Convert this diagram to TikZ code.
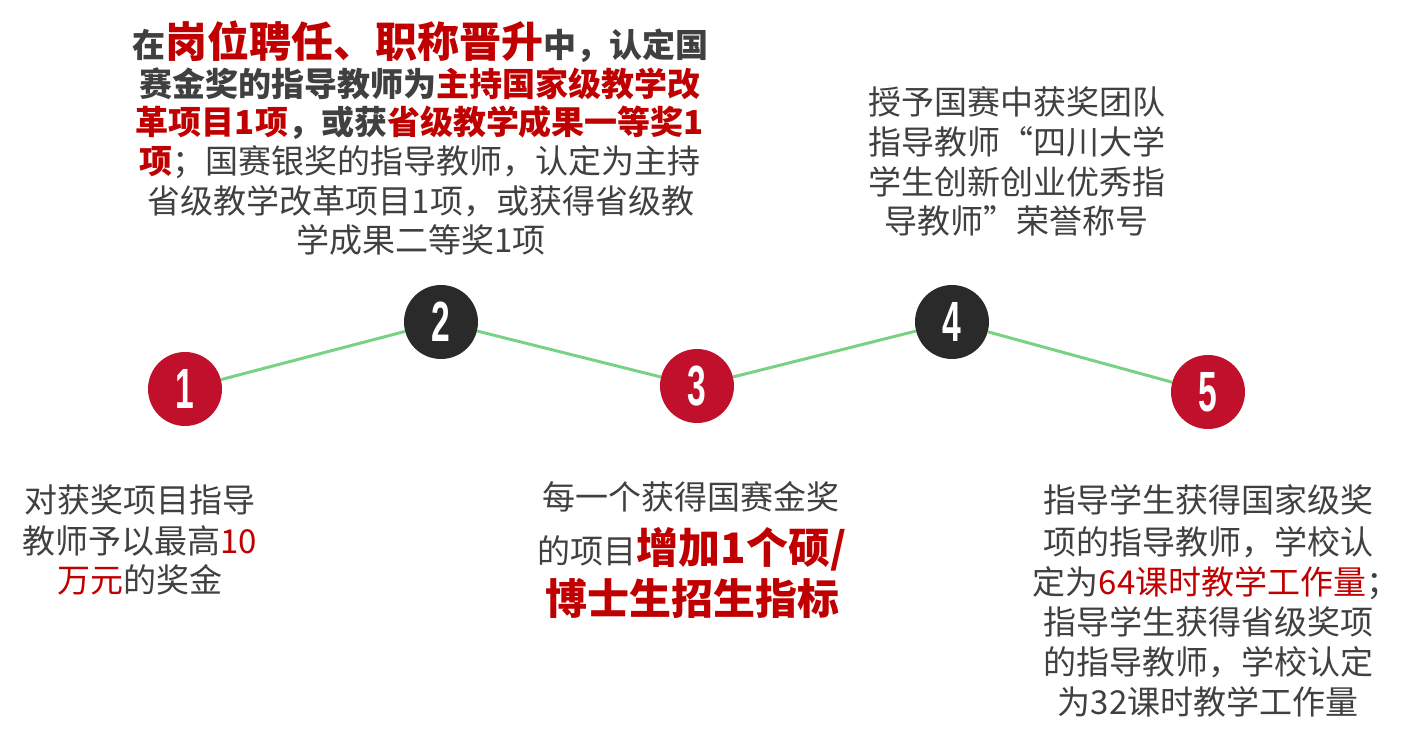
\documentclass[tikz,border=0pt]{standalone}
\usepackage{fontspec}
\usepackage{graphicx}
\newfontfamily\cjk{Noto Sans CJK SC}
\newfontfamily\numfont{Liberation Sans}
\definecolor{cred}{HTML}{C0102B}
\definecolor{cdark}{HTML}{2A2A2A}
\definecolor{cgreen}{HTML}{78D283}
\definecolor{tgray}{HTML}{404040}
\definecolor{tred}{HTML}{C00000}
\newcommand\bigred[1]{{\fontsize{42}{48}\selectfont\bfseries\color{tred}#1}}
\newcommand\boldred[1]{{\bfseries\color{tred}#1}}
\newcommand\plainred[1]{{\color{tred}#1}}
\newcommand\numtxt[1]{\scalebox{0.8}[1.35]{\numfont\bfseries\fontsize{42}{42}\selectfont #1}}
\tikzset{
  dot/.style={circle, minimum size=74pt, inner sep=0pt, text=white},
  reddot/.style={dot, fill=cred},
  darkdot/.style={dot, fill=cdark},
  link/.style={cgreen, line width=3pt},
  txt/.style={anchor=base, inner sep=0pt, text=tgray, font=\cjk\fontsize{33}{40}\selectfont},
}
\begin{document}
\begin{tikzpicture}[x=1pt,y=-1pt]
\useasboundingbox (0,0) rectangle (1428,732);
% circles
\node[reddot]  (c1) at (185,389) {\numtxt{1}};
\node[darkdot] (c2) at (441,322) {\numtxt{2}};
\node[reddot]  (c3) at (697,386) {\numtxt{3}};
\node[darkdot] (c4) at (952,322) {\numtxt{4}};
\node[reddot]  (c5) at (1208,392) {\numtxt{5}};
\draw[link] (c1) -- (c2);
\draw[link] (c2) -- (c3);
\draw[link] (c3) -- (c4);
\draw[link] (c4) -- (c5);
% block 2 (top left)
\node[txt] (b2a) at (420,57) {{\bfseries 在}\bigred{岗位聘任、职称晋升}{\bfseries 中，认定国}};
\node[txt] (b2b) at (420,96) {{\bfseries 赛金奖的指导教师为}\boldred{主持国家级教学改}};
\node[txt] (b2c) at (420,134) {\boldred{革项目1项}{\bfseries ，或获}\boldred{省级教学成果一等奖1}};
\node[txt] (b2d) at (420,173) {\boldred{项}；国赛银奖的指导教师，认定为主持};
\node[txt] (b2e) at (421,213) {省级教学改革项目1项，或获得省级教};
\node[txt] (b2f) at (421,252) {学成果二等奖1项};
% block 4 (top right)
\node[txt] (b4a) at (1017,114) {授予国赛中获奖团队};
\node[txt] (b4b) at (1017,154) {指导教师“四川大学};
\node[txt] (b4c) at (1017,194) {学生创新创业优秀指};
\node[txt] (b4d) at (1016,233) {导教师”荣誉称号};
% block 1 (bottom left)
\node[txt] (b1a) at (140,512) {对获奖项目指导};
\node[txt] (b1b) at (140,553) {教师予以最高\plainred{10}};
\node[txt] (b1c) at (140,592) {\plainred{万元}的奖金};
% block 3 (bottom middle)
\node[txt] (b3a) at (691,509) {每一个获得国赛金奖};
\node[txt] (b3b) at (692,563) {的项目\bigred{增加1个硕/}};
\node[txt] (b3c) at (692,614) {\bigred{博士生招生指标}};
% block 5 (bottom right)
\node[txt] (b5a) at (1208,512) {指导学生获得国家级奖};
\node[txt] (b5b) at (1208,554) {项的指导教师，学校认};
\node[txt] (b5c) at (1216,594) {定为\plainred{64课时教学工作量}；};
\node[txt] (b5d) at (1208,634) {指导学生获得省级奖项};
\node[txt] (b5e) at (1208,674) {的指导教师，学校认定};
\node[txt] (b5f) at (1208,714) {为32课时教学工作量};
\end{tikzpicture}
\end{document}
